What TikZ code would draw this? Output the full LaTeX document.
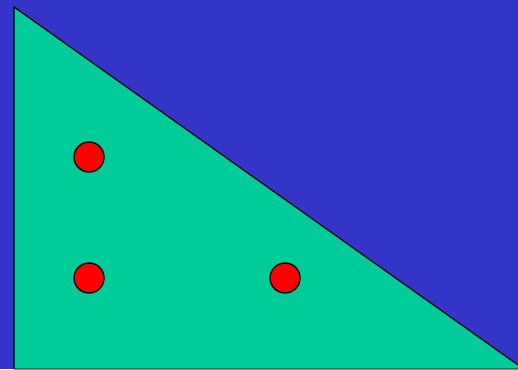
\documentclass[tikz,border=0pt]{standalone}
\usepackage{xcolor}
\definecolor{skyblue}{HTML}{3434C8}
\definecolor{field}{HTML}{00CC99}
\definecolor{dotred}{HTML}{FF0000}

\begin{document}
\begin{tikzpicture}[
      x=1pt, y=-1pt,
      dot/.style={
        circle, draw=black, fill=dotred, line width=1.4pt,
        minimum size=30pt, inner sep=0pt
      },
      edge/.style={draw=black, line width=1.2pt, line join=miter}
    ]
    % background
    \fill[skyblue] (0,0) rectangle (518,369);
    \useasboundingbox (0,0) rectangle (518,369);

    % triangle
    \coordinate (top) at (14,7);
    \coordinate (corner) at (14,369);
    \coordinate (tip) at (518,365);
    \fill[field] (top) -- (tip) -- (518,370) -- (14,370) -- cycle;
    \draw[field!60!black, line width=1pt] (14.5,368.5) -- (518,368.5);
    \draw[edge] (corner) -- (top) -- (tip);

    % dots
    \node[dot] (upper) at (89,157) {};
    \node[dot] (lower) at (89,278) {};
    \node[dot] (right) at (285,278) {};
  \end{tikzpicture}
\end{document}
